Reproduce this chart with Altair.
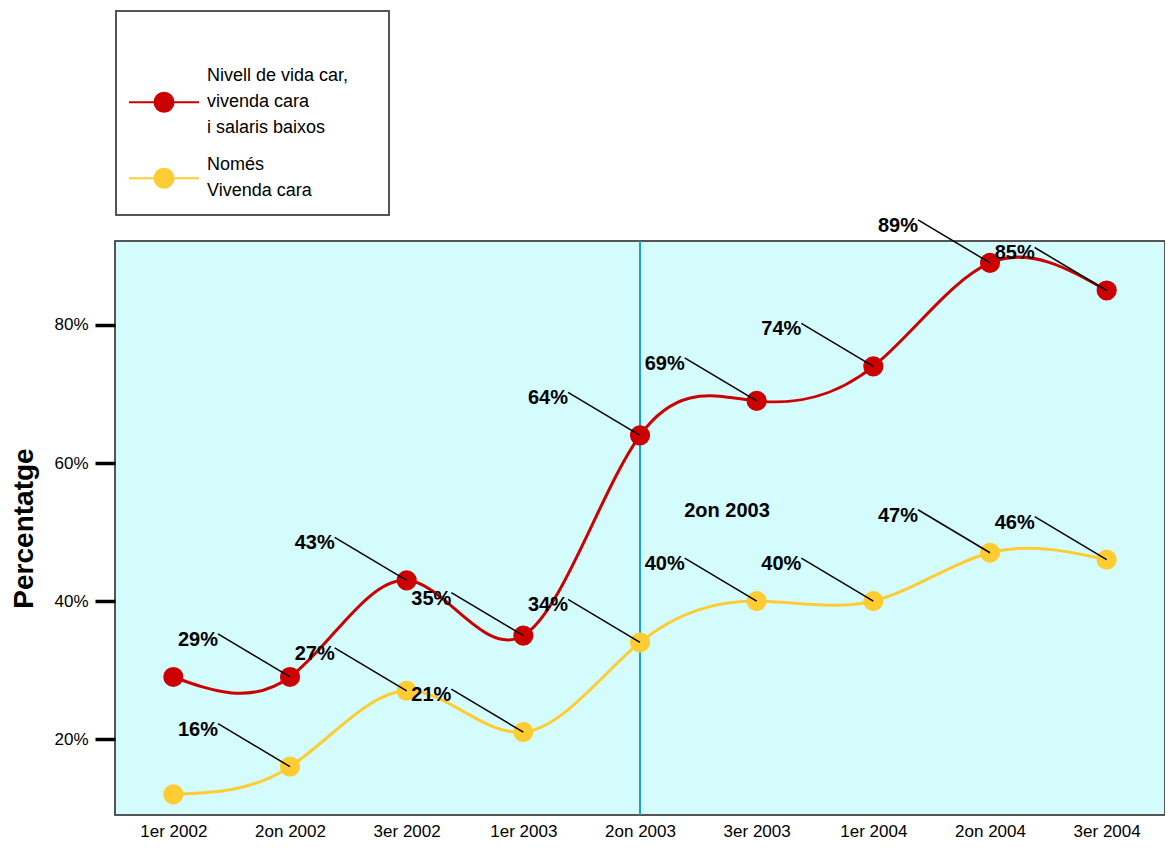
import altair as alt
import pandas as pd

categories = ["1er 2002", "2on 2002", "3er 2002", "1er 2003", "2on 2003",
              "3er 2003", "1er 2004", "2on 2004", "3er 2004"]
red_values = [0.29, 0.29, 0.43, 0.35, 0.64, 0.69, 0.74, 0.89, 0.85]
yellow_values = [0.12, 0.16, 0.27, 0.21, 0.34, 0.40, 0.40, 0.47, 0.46]
series_names = ["Nivell de vida car, vivenda cara i salaris baixos", "Només Vivenda cara"]
legend_lines = [["Nivell de vida car,", "vivenda cara", "i salaris baixos"],
                ["Només", "Vivenda cara"]]
series_colors = ["#cc0000", "#ffcc33"]
marker_category = "2on 2003"
marker_text = "2on 2003"
marker_text_value = 0.53
y_tick_values = [0.2, 0.4, 0.6, 0.8]
y_title = "Percentatge"

FONT = "Liberation Sans"
LINE_H = 26
SYM_UNIT = 27.0          # half of the nominal legend symbol box, px

rows = []
for name, vals in zip(series_names, [red_values, yellow_values]):
    for i, (c, v) in enumerate(zip(categories, vals)):
        rows.append({"cat": c, "val": v, "series": name, "idx": i})
df = pd.DataFrame(rows)
df_labels = df[df["idx"] > 0]
df_marker = pd.DataFrame({"cat": [marker_category], "val": [marker_text_value], "txt": [marker_text]})


def js_arr(lines):
    return "[" + ", ".join("'" + s.replace("'", "\\'") + "'" for s in lines) + "]"


label_expr = ("datum.label == '" + series_names[0] + "' ? " + js_arr(legend_lines[0])
              + " : " + js_arr(legend_lines[1]))


def sym_path(dy_px, half_w_px=35.0, r_px=9.5):
    u = SYM_UNIT
    dy = round(dy_px / u, 3)
    w = round(half_w_px / u, 3)
    r = round(r_px / u, 3)
    return (f"M-{w},{dy}L{w},{dy}M-{r},{dy}A{r},{r},0,1,1,{r},{dy}"
            f"A{r},{r},0,1,1,-{r},{dy}Z")


# legend symbols: a line with a dot, centred on the label block of each entry
legend_shapes = [sym_path(LINE_H), sym_path(LINE_H / 2)]

color_scale = alt.Scale(domain=series_names, range=series_colors)
shape_scale = alt.Scale(domain=series_names, range=legend_shapes)
legend = alt.Legend(
    # invisible title: reserves the empty band at the top of the legend box
    title="x" * 24, titleOpacity=0, titleLimit=400, orient="none", legendX=1, legendY=-230,
    symbolSize=(2 * SYM_UNIT) ** 2, symbolStrokeWidth=2, symbolOffset=6,
    labelExpr=label_expr, labelFont=FONT, labelFontSize=18, labelOffset=15,
    labelLimit=400, padding=14, strokeColor="#555555", fillColor="white",
    titleFont=FONT, titleFontSize=18.3, titlePadding=5, rowPadding=-9,
)

x_enc = alt.X("cat:N", sort=categories, scale=alt.Scale(type="point", padding=0.5),
              axis=alt.Axis(title=None, ticks=False, domain=False, labelAngle=0,
                            labelAlign="center", labelBaseline="top",
                            labelFontSize=17, labelPadding=8, labelFont=FONT,
                            labelColor="black"))
y_enc = alt.Y("val:Q", scale=alt.Scale(domain=[0.09, 0.9217], nice=False, zero=False),
              axis=alt.Axis(values=y_tick_values, format=".0%", title=y_title,
                            titleFont=FONT, titleFontSize=28, titleFontWeight="bold",
                            titlePadding=15, titleColor="black",
                            labelFont=FONT, labelFontSize=17, labelPadding=7,
                            labelColor="black", tickSize=20, tickWidth=3.5,
                            tickColor="black", domain=False, grid=False))

base = alt.Chart(df)
xs = alt.X("cat:N", sort=categories)

vline = alt.Chart(df_marker).mark_rule(color="#1b9fd6", strokeWidth=2).encode(x=xs)

lines = base.mark_line(strokeWidth=3, interpolate="natural").encode(
    x=x_enc, y=y_enc,
    stroke=alt.Stroke("series:N", scale=color_scale, legend=legend),
    detail="series:N",
)

points = base.mark_point(filled=True, size=330, opacity=1).encode(
    x=xs, y="val:Q",
    fill=alt.Fill("series:N", scale=color_scale, legend=legend),
    stroke=alt.Stroke("series:N", scale=color_scale, legend=legend),
)

legend_shape_layer = base.transform_filter("false").mark_point(filled=True).encode(
    x=xs, y="val:Q",
    shape=alt.Shape("series:N", scale=shape_scale, legend=legend),
    fill=alt.Fill("series:N", scale=color_scale, legend=legend),
    stroke=alt.Stroke("series:N", scale=color_scale, legend=legend),
)

leaders = alt.Chart(df_labels).mark_rule(
    color="black", strokeWidth=1.5, x2Offset=-72, y2Offset=-43).encode(
    x=xs, x2="cat:N", y="val:Q", y2="val:Q")

labels = alt.Chart(df_labels).mark_text(
    align="right", baseline="middle", dx=-72, dy=-37, font=FONT,
    fontSize=20, fontWeight="bold", color="black").encode(
    x=xs, y="val:Q", text=alt.Text("val:Q", format=".0%"))

marker_lbl = alt.Chart(df_marker).mark_text(
    dx=87, font=FONT, fontSize=20, fontWeight="bold", color="black").encode(
    x=xs, y="val:Q", text="txt:N")

chart = alt.layer(vline, lines, points, legend_shape_layer, leaders, labels, marker_lbl).properties(
    width=1050, height=574,
    autosize="none",
    padding={"left": 107, "top": 233, "right": 0, "bottom": 26},
).configure(
    style={"guide-label": {"lineHeight": LINE_H}}
).configure_view(
    fill="#d4fcfc", stroke="#555555", strokeWidth=2
).configure_legend(
    strokeWidth=2
)

chart.save("out.html", embed_options={"renderer": "svg", "actions": False})
